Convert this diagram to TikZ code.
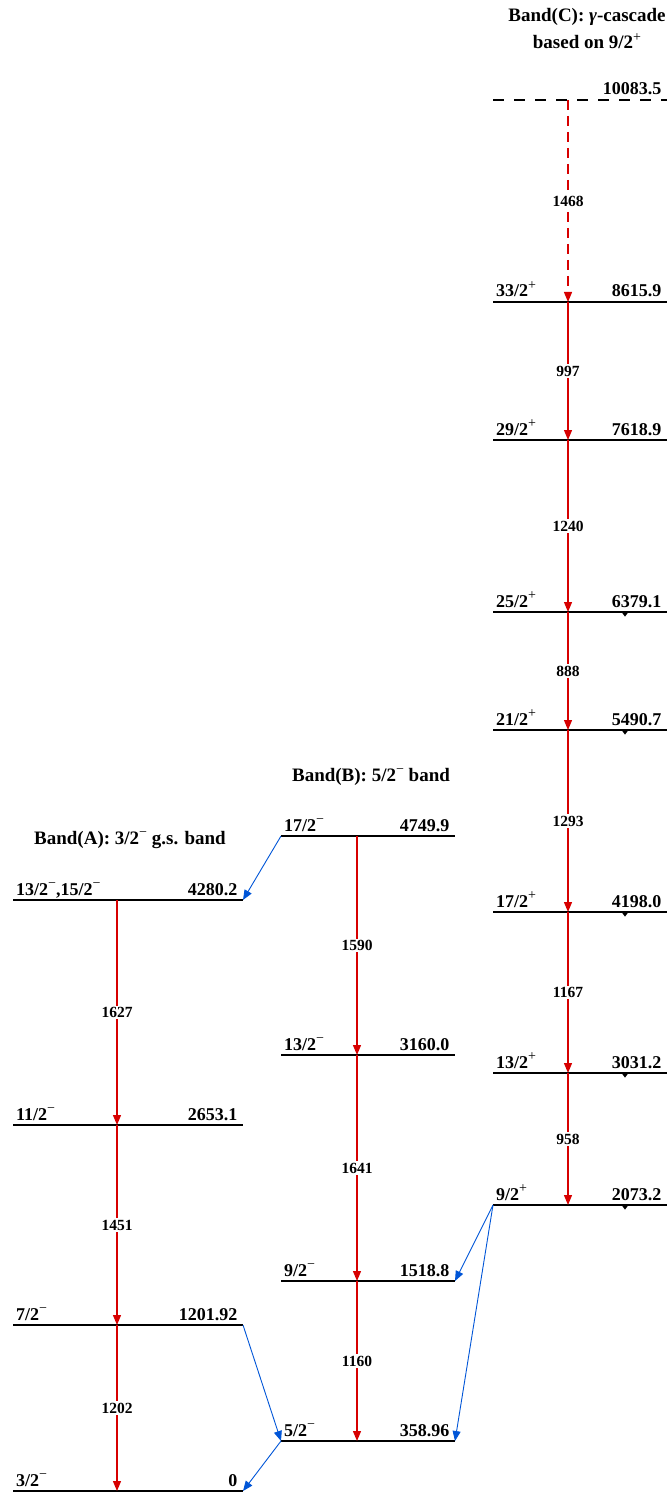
\documentclass[tikz,border=0pt]{standalone}
\usepackage{fontspec}
\setmainfont{Liberation Serif}
\usetikzlibrary{arrows.meta}
\definecolor{gred}{RGB}{215,0,0}
\definecolor{fblue}{RGB}{0,85,215}
\newcommand\spP{\raisebox{0.4em}{\mdseries\fontsize{14}{14}\selectfont +}}
\newcommand\spM{\raisebox{0.4em}{\mdseries\fontsize{14}{14}\selectfont −}}
\newcommand\lfont{\bfseries\fontsize{18}{20}\selectfont}
\newcommand\tfont{\bfseries\fontsize{19}{27}\selectfont}
\newcommand\gfont{\bfseries\fontsize{15.5}{17}\selectfont}
\newcommand\lvl[7]{%
  \coordinate (#1-l) at (#2,#5);
  \coordinate (#1-r) at (#3,#5);
  \coordinate (#1-m) at (#4,#5);
  \draw[level] (#1-l) -- (#1-r);
  \node[spin] (#1-s) at ([xshift=3pt,yshift=5pt]#1-l) {#6};
  \node[en] (#1-e) at ([xshift=-5.5pt,yshift=5pt]#1-r) {#7};
}
\begin{document}
\begin{tikzpicture}[x=1pt,y=-1pt,
  level/.style={line width=1.1pt,black},
  spin/.style={anchor=base west,inner sep=0pt,font=\lfont},
  en/.style={anchor=base east,inner sep=0pt,font=\lfont},
  gam/.style={gred,line width=1.25pt,-{Triangle[width=8pt,length=10pt]}},
  glabel/.style={fill=white,inner sep=1.5pt,text=black,font=\gfont},
  feed/.style={fblue,line width=0.9pt,-{Triangle[width=8pt,length=10pt]}},
  title/.style={font=\tfont,align=center,inner sep=0pt}]
\useasboundingbox (0,0) rectangle (668,1495);

% titles
\node[title] (tA) at (130,840) {Band(A): 3/2\spM{} g.s. band};
\node[title] (tB) at (371,777) {Band(B): 5/2\spM{} band};
\node[title] (tC) at (587,29) {Band(C): \textit{γ}-cascade\\based on 9/2\spP};

% Band A
\lvl{A4280}{13}{243}{117}{900}{13/2\spM,15/2\spM}{4280.2}
\lvl{A2653}{13}{243}{117}{1125}{11/2\spM}{2653.1}
\lvl{A1202}{13}{243}{117}{1325}{7/2\spM}{1201.92}
\lvl{A0}{13}{243}{117}{1491}{3/2\spM}{0}
\draw[line width=2pt] (A0-l) -- (A0-r);

% Band B
\lvl{B4750}{281}{455}{357}{836}{17/2\spM}{4749.9}
\lvl{B3160}{281}{455}{357}{1055}{13/2\spM}{3160.0}
\lvl{B1519}{281}{455}{357}{1281}{9/2\spM}{1518.8}
\lvl{B359}{281}{455}{357}{1441}{5/2\spM}{358.96}

% Band C
\coordinate (C10084-l) at (493,100);
\coordinate (C10084-r) at (667,100);
\coordinate (C10084-m) at (568,100);
\draw[line width=1.1pt,dash pattern=on 11pt off 10pt] (C10084-l) -- (C10084-r);
\node[en] (C10084-e) at ([xshift=-5.5pt,yshift=5pt]C10084-r) {10083.5};
\lvl{C8616}{493}{667}{568}{302}{33/2\spP}{8615.9}
\lvl{C7619}{493}{667}{568}{440}{29/2\spP}{7618.9}
\lvl{C6379}{493}{667}{568}{612}{25/2\spP}{6379.1}
\lvl{C5491}{493}{667}{568}{730}{21/2\spP}{5490.7}
\lvl{C4198}{493}{667}{568}{912}{17/2\spP}{4198.0}
\lvl{C3031}{493}{667}{568}{1073}{13/2\spP}{3031.2}
\lvl{C2073}{493}{667}{568}{1205}{9/2\spP}{2073.2}

% small markers
\foreach \y in {612,730,912,1073,1205}
  \fill (625,\y) ++(-3,0.6) -- ++(6,0) -- ++(-3,4) -- cycle;

% gamma transitions
\draw[gam] (A4280-m) -- node[glabel]{1627} (A2653-m);
\draw[gam] (A2653-m) -- node[glabel]{1451} (A1202-m);
\draw[gam] (A1202-m) -- node[glabel]{1202} (A0-m);

\draw[gam] (B4750-m) -- node[glabel]{1590} (B3160-m);
\draw[gam] (B3160-m) -- node[glabel]{1641} (B1519-m);
\draw[gam] (B1519-m) -- node[glabel]{1160} (B359-m);

\draw[gam,dash pattern=on 10pt off 6pt] (C10084-m) -- node[glabel]{1468} (C8616-m);
\draw[gam] (C8616-m) -- node[glabel]{997} (C7619-m);
\draw[gam] (C7619-m) -- node[glabel]{1240} (C6379-m);
\draw[gam] (C6379-m) -- node[glabel]{888} (C5491-m);
\draw[gam] (C5491-m) -- node[glabel]{1293} (C4198-m);
\draw[gam] (C4198-m) -- node[glabel]{1167} (C3031-m);
\draw[gam] (C3031-m) -- node[glabel]{958} (C2073-m);

% inter-band transitions
\draw[feed] (B4750-l) -- (A4280-r);
\draw[feed] (A1202-r) -- (B359-l);
\draw[feed] (B359-l) -- (A0-r);
\draw[feed] (C2073-l) -- (B1519-r);
\draw[feed] (C2073-l) -- (B359-r);
\end{tikzpicture}
\end{document}
